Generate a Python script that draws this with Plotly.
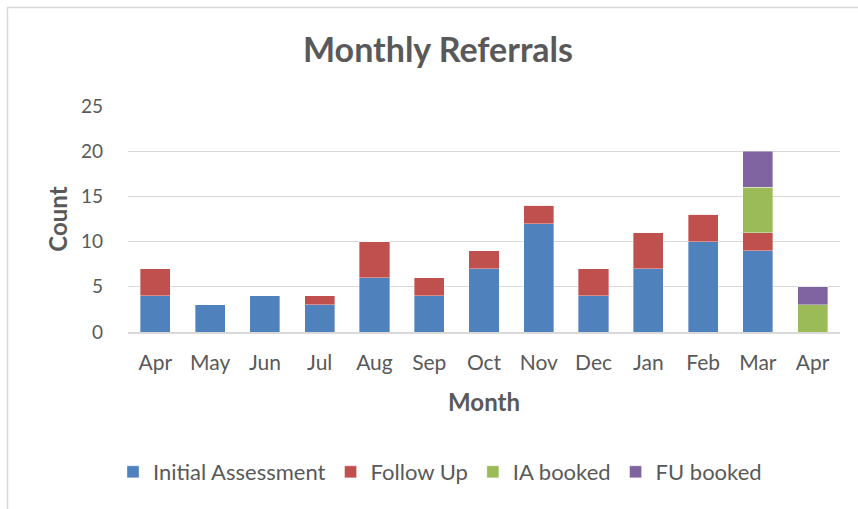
import plotly.graph_objects as go

months = ["Apr", "May", "Jun", "Jul", "Aug", "Sep", "Oct", "Nov", "Dec", "Jan", "Feb", "Mar", "Apr"]
initial_assessment = [4, 3, 4, 3, 6, 4, 7, 12, 4, 7, 10, 9, 0]
follow_up = [3, 0, 0, 1, 4, 2, 2, 2, 3, 4, 3, 2, 0]
ia_booked = [0, 0, 0, 0, 0, 0, 0, 0, 0, 0, 0, 5, 3]
fu_booked = [0, 0, 0, 0, 0, 0, 0, 0, 0, 0, 0, 4, 2]

series = [
    ("Initial Assessment", initial_assessment, "#4F81BD"),
    ("Follow Up", follow_up, "#C0504D"),
    ("IA booked", ia_booked, "#9BBB59"),
    ("FU booked", fu_booked, "#8064A2"),
]

x = list(range(len(months)))
fig = go.Figure()
for name, vals, color in series:
    fig.add_trace(go.Bar(
        x=x, y=vals, name=name,
        marker=dict(color=color, line=dict(color="rgba(255,255,255,0.6)", width=0.6)),
    ))

W, H = 858, 509
L, R, T, B = 128, 18, 106, 177
pw, ph = W - L - R, H - T - B

def px_to_paper_x(px):
    return (px - L) / pw

def px_to_paper_y(py):
    return (H - B - py) / ph

font_family = "Lato, Open Sans, sans-serif"
grey = "#595959"

fig.update_layout(
    width=W, height=H,
    margin=dict(l=L, r=R, t=T, b=B),
    barmode="stack",
    bargap=0.45,
    plot_bgcolor="white",
    paper_bgcolor="white",
    font=dict(family=font_family, color=grey, size=20),
    title=dict(text="<b>Monthly Referrals</b>", x=438 / W, xanchor="center",
               y=1 - 50 / H, yanchor="middle", yref="container",
               font=dict(size=34, color=grey, family=font_family)),
    xaxis=dict(
        tickmode="array", tickvals=x, ticktext=months,
        range=[-0.5, len(months) - 0.5],
        showgrid=False, showline=True, linecolor="#D9D9D9", linewidth=1.5,
        ticks="", tickfont=dict(size=21, color=grey), ticklabelstandoff=11,
        title=dict(text="<b>Month</b>", font=dict(size=24, color=grey), standoff=21),
    ),
    yaxis=dict(
        range=[0, 25], dtick=5, showgrid=True, gridcolor="#D9D9D9", gridwidth=1,
        zeroline=False, showline=False, ticks="",
        tickfont=dict(size=19, color=grey), ticklabelstandoff=24,
        title=dict(text="<b>Count</b>", font=dict(size=24, color=grey), standoff=6),
    ),
    legend=dict(orientation="h", x=px_to_paper_x(440), xanchor="center",
                y=px_to_paper_y(472), yanchor="middle",
                font=dict(size=22, color=grey), itemwidth=30,
                traceorder="normal"),
    shapes=[
        dict(type="line", xref="paper", yref="paper",
             x0=px_to_paper_x(7), x1=px_to_paper_x(W + 5),
             y0=px_to_paper_y(7.5), y1=px_to_paper_y(7.5),
             line=dict(color="#D9D9D9", width=1.5)),
        dict(type="line", xref="paper", yref="paper",
             x0=px_to_paper_x(7.5), x1=px_to_paper_x(7.5),
             y0=px_to_paper_y(7), y1=px_to_paper_y(H + 5),
             line=dict(color="#D9D9D9", width=1.5)),
    ],
)

fig.write_html("out.html", config={"displayModeBar": False},
               post_script="document.body.style.margin='0';")
